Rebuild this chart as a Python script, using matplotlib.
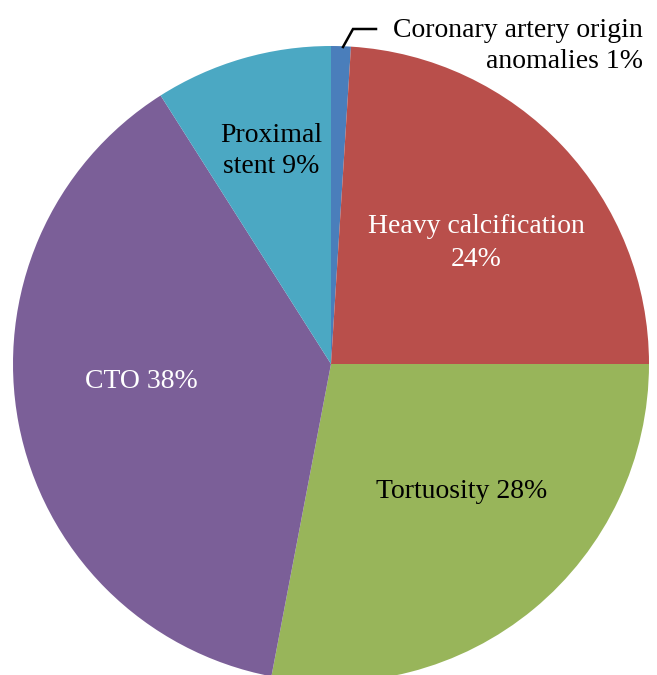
import matplotlib
matplotlib.use("Agg")
import matplotlib.pyplot as plt

categories = ["Coronary artery origin\nanomalies 1%", "Heavy calcification\n24%",
              "Tortuosity 28%", "CTO 38%", "Proximal\nstent 9%"]
values = [1, 24, 28, 38, 9]
colors = ["#4A7EBB", "#B94F4B", "#98B55A", "#7B5F98", "#4BA8C3"]
text_colors = ["black", "white", "black", "white", "black"]

W, H = 657, 675
fig = plt.figure(figsize=(W / 100, H / 100), dpi=100)
ax = fig.add_axes([0, 0, 1, 1])
cx, cy, r = 331, H - 364, 318
wedges, _ = ax.pie(values, colors=colors, startangle=90, counterclock=False,
                   center=(cx, cy), radius=r, wedgeprops=dict(linewidth=0))
ax.set_xlim(0, W)
ax.set_ylim(0, H)
ax.set_aspect("equal")
ax.axis("off")

font = dict(family="Liberation Serif", fontsize=20)
# label positions in pixel coordinates (x, y from top)
pos = [(643, 46), (476, 243), (462, 491), (141, 382), (271, 151)]
ha = ["right", "center", "center", "center", "center"]
spacing = [1.3, 1.45, 1.2, 1.2, 1.3]
for lab, (x, y), h, tc, ls in zip(categories, pos, ha, text_colors, spacing):
    ax.text(x, H - y, lab, ha=h, va="center", color=tc, linespacing=ls,
            multialignment="right" if h == "right" else "center", **font)

# leader line for the small slice
ax.plot([343, 353, 376], [H - 47, H - 29, H - 29], color="black", lw=1.8,
        solid_joinstyle="miter")

fig.savefig("out.png", dpi=100)
